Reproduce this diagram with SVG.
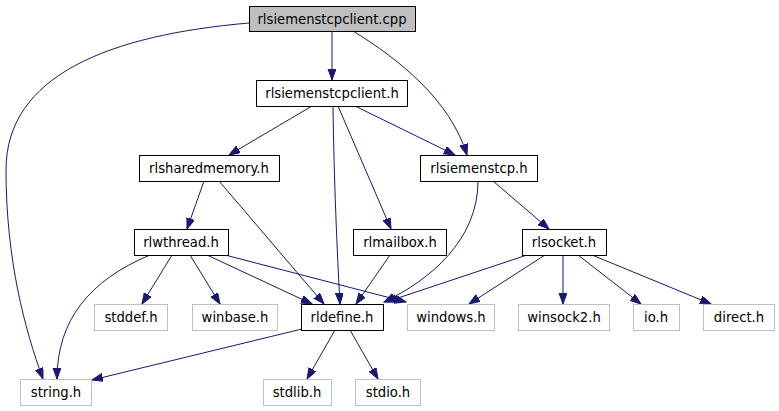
<svg xmlns="http://www.w3.org/2000/svg" width="779" height="411" viewBox="0 0 779 411">
<style>
.n rect{fill:#fff;stroke:#000;stroke-width:1}
.n.g rect{stroke:#bfbfbf}
.n.m rect{fill:#bfbfbf}
.n text{font-family:"DejaVu Sans",sans-serif;font-size:13.2px;text-anchor:middle;fill:#000}
#edges path{fill:none;stroke:#191970;stroke-width:1;marker-end:url(#ah)}
</style>
<defs>
<marker id="ah" markerUnits="userSpaceOnUse" markerWidth="12" markerHeight="9" refX="11" refY="4" orient="auto">
<path d="M0,0 L11,4 L0,8 z" fill="#191970" stroke="#191970" stroke-width="1"/>
</marker>
</defs>
<rect width="779" height="411" fill="#fff"/>
<g id="edges">
<path d="M249,23 C110,35 6,75 6,170 C6,260 25,330 43,379"/>
<path d="M332,31 L332,80"/>
<path d="M353,31 C400,60 450,100 467,155"/>
<path d="M312,106 L229,155"/>
<path d="M333,106 C334,180 337,250 340,304"/>
<path d="M338,106 L391,229"/>
<path d="M355,106 L455,155"/>
<path d="M204,181 L187,229"/>
<path d="M219,181 L324,304"/>
<path d="M478,181 C478,240 430,280 384,302"/>
<path d="M493,181 L549,229"/>
<path d="M150,255 C90,280 57,320 57,379"/>
<path d="M172,255 L142,304"/>
<path d="M190,255 L220,304"/>
<path d="M207,255 L312,304"/>
<path d="M225,255 L406,302"/>
<path d="M390,255 L356,304"/>
<path d="M527,255 L386,302"/>
<path d="M545,255 L469,304"/>
<path d="M563,255 L563,304"/>
<path d="M578,255 L641,304"/>
<path d="M592,255 L711,304"/>
<path d="M302,329 L92,380"/>
<path d="M335,330 L307,379"/>
<path d="M350,330 L378,379"/>
</g>
<g id="n_cpp" class="n m"><rect x="249.5" y="6.5" width="166" height="25"/><text x="332" y="24">rlsiemenstcpclient.cpp</text></g>
<g id="n_client_h" class="n"><rect x="256.5" y="80.5" width="151" height="26"/><text x="332" y="98">rlsiemenstcpclient.h</text></g>
<g id="n_sharedmemory" class="n"><rect x="139.5" y="155.5" width="140" height="26"/><text x="209" y="173">rlsharedmemory.h</text></g>
<g id="n_siemenstcp" class="n"><rect x="420.5" y="155.5" width="117" height="26"/><text x="479" y="173">rlsiemenstcp.h</text></g>
<g id="n_wthread" class="n"><rect x="134.5" y="229.5" width="94" height="26"/><text x="181" y="247">rlwthread.h</text></g>
<g id="n_mailbox" class="n"><rect x="353.5" y="229.5" width="93" height="26"/><text x="400" y="247">rlmailbox.h</text></g>
<g id="n_socket" class="n"><rect x="522.5" y="229.5" width="84" height="26"/><text x="564" y="247">rlsocket.h</text></g>
<g id="n_stddef" class="n g"><rect x="94.5" y="304.5" width="73" height="26"/><text x="131" y="322">stddef.h</text></g>
<g id="n_winbase" class="n g"><rect x="192.5" y="304.5" width="85" height="26"/><text x="235" y="322">winbase.h</text></g>
<g id="n_rldefine" class="n"><rect x="301.5" y="304.5" width="82" height="26"/><text x="342" y="322">rldefine.h</text></g>
<g id="n_windows" class="n g"><rect x="407.5" y="304.5" width="87" height="26"/><text x="451" y="322">windows.h</text></g>
<g id="n_winsock2" class="n g"><rect x="518.5" y="304.5" width="91" height="26"/><text x="564" y="322">winsock2.h</text></g>
<g id="n_io" class="n g"><rect x="633.5" y="304.5" width="46" height="26"/><text x="656" y="322">io.h</text></g>
<g id="n_direct" class="n g"><rect x="703.5" y="304.5" width="71" height="26"/><text x="739" y="322">direct.h</text></g>
<g id="n_string" class="n g"><rect x="20.5" y="379.5" width="71" height="26"/><text x="56" y="397">string.h</text></g>
<g id="n_stdlib" class="n g"><rect x="263.5" y="379.5" width="68" height="26"/><text x="297" y="397">stdlib.h</text></g>
<g id="n_stdio" class="n g"><rect x="355.5" y="379.5" width="65" height="26"/><text x="388" y="397">stdio.h</text></g>
</svg>
